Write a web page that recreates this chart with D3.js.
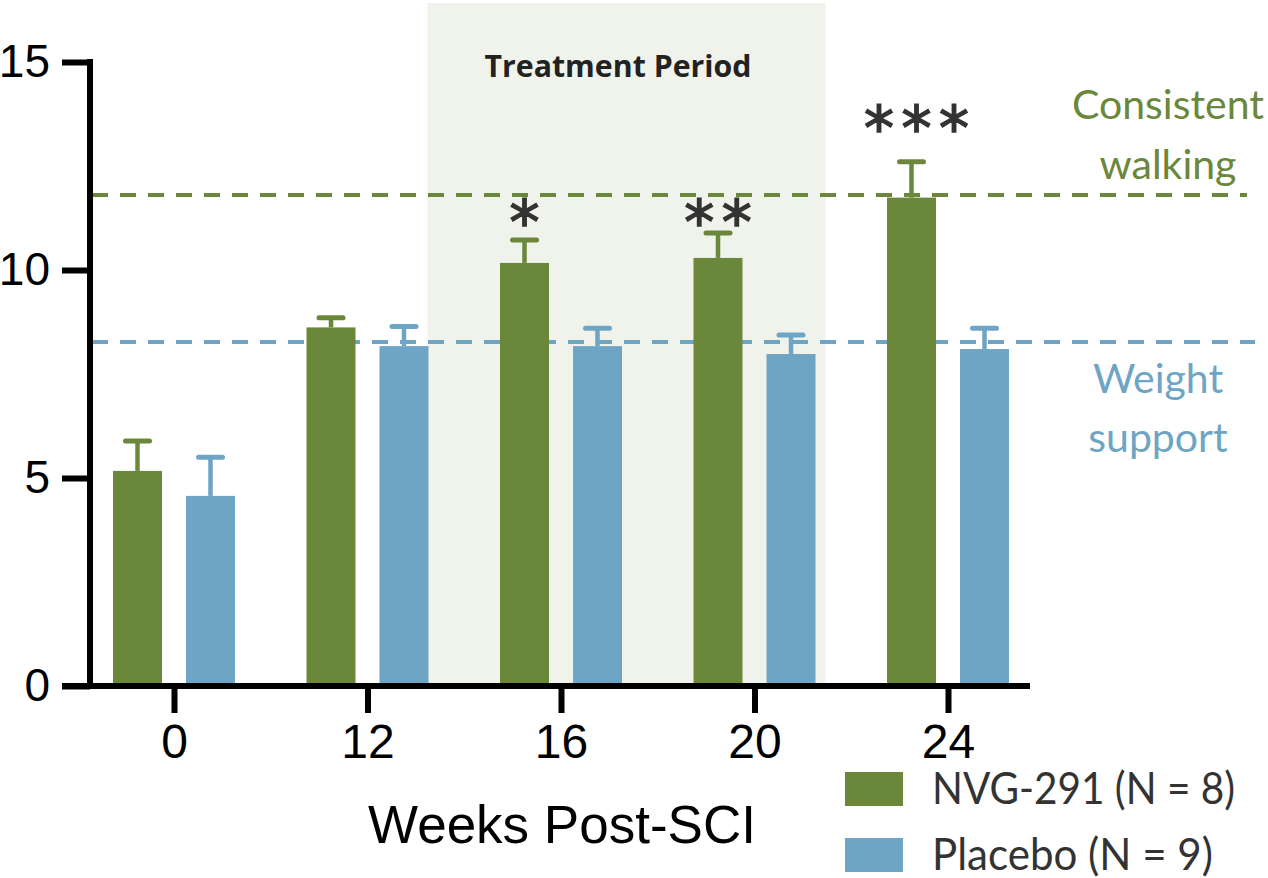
<!DOCTYPE html>
<html>
<head>
<meta charset="utf-8">
<script src="https://cdn.jsdelivr.net/npm/d3@7"></script>
<style>
  html, body { margin: 0; padding: 0; background: #fff; }
  svg { display: block; }
</style>
</head>
<body>
<div id="chart"></div>
<script>
// values
const weeks = ["0", "12", "16", "20", "24"];
const nvgMean = [5.17, 8.62, 10.17, 10.29, 11.74];
const nvgErr = [0.72, 0.23, 0.55, 0.6, 0.86];
const placeboMean = [4.57, 8.17, 8.17, 7.98, 8.10];
const placeboErr = [0.93, 0.47, 0.43, 0.46, 0.5];
const sigLabels = ["", "", "*", "**", "***"];
const sigLevel = [null, null, 11.33, 11.32, 13.58];
const yTicks = [0, 5, 10, 15];
const walkingLevel = 11.8;
const supportLevel = 8.27;
const seriesNames = ["NVG-291 (N = 8)", "Placebo (N = 9)"];

const width = 1268, height = 878;
const green = "#6a873a", blue = "#6ea5c4";

let svg = d3.select("#chart").append("svg")
    .attr("width", width)
    .attr("height", height);

let y = d3.scaleLinear().domain([0, 15]).range([686, 62]);
let x = d3.scalePoint().domain(weeks).range([174, 948]);
let barW = 49, offset = 36.5;

// treatment period shading
svg.append("rect")
    .attr("x", x("12") + 60)
    .attr("y", 3)
    .attr("width", x("20") + 71 - (x("12") + 60))
    .attr("height", y(0) - 3)
    .attr("fill", "#f0f3ec");

svg.append("text")
    .attr("x", 618)
    .attr("y", 77)
    .attr("text-anchor", "middle")
    .attr("font-family", "Open Sans, sans-serif")
    .attr("font-weight", 700)
    .attr("font-size", 31)
    .attr("fill", "#222")
    .attr("textLength", 267)
    .attr("lengthAdjust", "spacingAndGlyphs")
    .text("Treatment Period");

// threshold lines
svg.append("line")
    .attr("x1", 92).attr("x2", 1247)
    .attr("y1", y(walkingLevel)).attr("y2", y(walkingLevel))
    .attr("stroke", green).attr("stroke-width", 4)
    .attr("stroke-dasharray", "16 12");
svg.append("line")
    .attr("x1", 92).attr("x2", 1255)
    .attr("y1", y(supportLevel)).attr("y2", y(supportLevel))
    .attr("stroke", blue).attr("stroke-width", 4)
    .attr("stroke-dasharray", "16 12");

// bars + error bars
let groups = [
    {mean: nvgMean, err: nvgErr, color: green, dx: -offset},
    {mean: placeboMean, err: placeboErr, color: blue, dx: offset}
];

groups.forEach(function(g) {
    let rows = weeks.map(function(w, i) { return {w: w, m: g.mean[i], e: g.err[i]}; });

    svg.selectAll(null)
        .data(rows)
        .enter()
        .append("line")
        .attr("x1", d => x(d.w) + g.dx).attr("x2", d => x(d.w) + g.dx)
        .attr("y1", d => y(d.m)).attr("y2", d => y(d.m + d.e))
        .attr("stroke", g.color).attr("stroke-width", 4.5);

    svg.selectAll(null)
        .data(rows)
        .enter()
        .append("line")
        .attr("x1", d => x(d.w) + g.dx - 12).attr("x2", d => x(d.w) + g.dx + 12)
        .attr("y1", d => y(d.m + d.e)).attr("y2", d => y(d.m + d.e))
        .attr("stroke", g.color).attr("stroke-width", 5)
        .attr("stroke-linecap", "round");

    svg.selectAll(null)
        .data(rows)
        .enter()
        .append("rect")
        .attr("x", d => x(d.w) + g.dx - barW / 2)
        .attr("y", d => y(d.m))
        .attr("width", barW)
        .attr("height", d => y(0) - y(d.m))
        .attr("fill", g.color);
});

// significance stars
weeks.forEach(function(w, i) {
    let n = sigLabels[i].length;
    for (let k = 0; k < n; k++) {
        svg.append("text")
            .attr("x", x(w) - offset + (k - (n - 1) / 2) * 37.5 + (n == 3 ? 5 : 0))
            .attr("y", y(sigLevel[i]) + 28)
            .attr("text-anchor", "middle")
            .attr("font-family", "DejaVu Sans, sans-serif")
            .attr("font-size", 60)
            .attr("fill", "#333")
            .attr("stroke", "#333")
            .attr("stroke-width", 1.5)
            .text("*");
    }
});

// axes
let yAxis = d3.axisLeft(y).tickValues(yTicks).tickSize(28).tickPadding(12).tickFormat(d3.format("d"));
let gy = svg.append("g").attr("transform", "translate(90,0)").call(yAxis);
gy.select(".domain").remove();
gy.selectAll(".tick line").attr("stroke", "#000").attr("stroke-width", 6);
gy.selectAll(".tick text")
    .attr("font-family", "Liberation Sans, Arial, sans-serif")
    .attr("font-size", 46)
    .attr("fill", "#000");

svg.append("line")
    .attr("x1", 90).attr("x2", 90)
    .attr("y1", y(15) - 3).attr("y2", y(0) + 3)
    .attr("stroke", "#000").attr("stroke-width", 6);

let xAxis = d3.axisBottom(x).tickSize(27).tickPadding(11);
let gx = svg.append("g").attr("transform", "translate(0," + y(0) + ")").call(xAxis);
gx.select(".domain").remove();
gx.selectAll(".tick line").attr("stroke", "#000").attr("stroke-width", 6);
gx.selectAll(".tick text")
    .attr("font-family", "Liberation Sans, Arial, sans-serif")
    .attr("font-size", 48)
    .attr("fill", "#000");

svg.append("line")
    .attr("x1", 62).attr("x2", 1030)
    .attr("y1", y(0)).attr("y2", y(0))
    .attr("stroke", "#000").attr("stroke-width", 6);

svg.append("text")
    .attr("x", 562)
    .attr("y", 843)
    .attr("text-anchor", "middle")
    .attr("font-family", "Liberation Sans, Arial, sans-serif")
    .attr("font-size", 53)
    .attr("fill", "#000")
    .text("Weeks Post-SCI");

// threshold labels
function label(lines, x0, y0, gap, color) {
    let t = svg.append("text")
        .attr("text-anchor", "middle")
        .attr("font-family", "Lato, sans-serif")
        .attr("font-size", 41)
        .attr("fill", color);
    lines.forEach(function(s, i) {
        t.append("tspan").attr("x", x0).attr("y", y0 + i * gap).text(s);
    });
}
label(["Consistent", "walking"], 1168, 119, 60, green);
label(["Weight", "support"], 1158, 393, 59, blue);

// legend
let legendW = [303, 281];
let legend = svg.selectAll(".legend")
    .data(seriesNames)
    .enter()
    .append("g")
    .attr("transform", (d, i) => "translate(845," + (772 + i * 66) + ")");
legend.append("rect")
    .attr("width", 58).attr("height", 34)
    .attr("fill", (d, i) => i == 0 ? green : blue);
legend.append("text")
    .attr("x", 87).attr("y", 32)
    .attr("font-family", "Lato, sans-serif")
    .attr("font-size", 45)
    .attr("fill", "#333")
    .attr("textLength", (d, i) => legendW[i])
    .attr("lengthAdjust", "spacingAndGlyphs")
    .text(d => d);
</script>
</body>
</html>
